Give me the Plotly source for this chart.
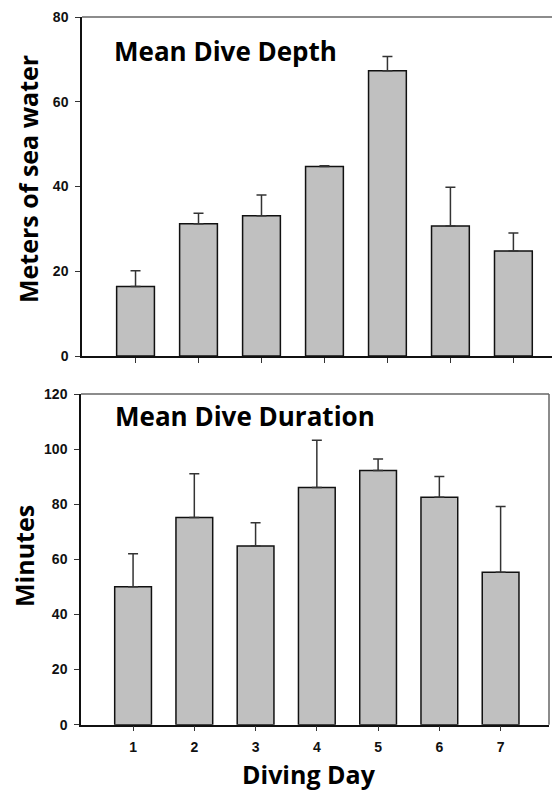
import plotly.graph_objects as go

days = [1, 2, 3, 4, 5, 6, 7]
tick_labels = ["1", "2", "3", "4", "5", "6", "7"]
depth_ticks = [0, 20, 40, 60, 80]
duration_ticks = [0, 20, 40, 60, 80, 100, 120]

depth_mean = [16.4, 31.2, 33.1, 44.7, 67.3, 30.7, 24.8]
depth_err = [3.7, 2.5, 4.9, 0.2, 3.4, 9.1, 4.2]

duration_mean = [50.1, 75.2, 64.8, 86.1, 92.2, 82.5, 55.3]
duration_err = [11.9, 15.9, 8.5, 17.1, 4.2, 7.6, 23.9]

BAR_FILL = "#c0c0c0"
TITLE_FONT = dict(family="Open Sans", size=26, color="#000000")
AXTITLE_FONT = dict(family="Open Sans", size=25, color="#000000")
TICK_FONT = dict(family="Liberation Sans, Arial", size=14, color="#111111")

# page body has an 8px default margin; compensate so window pixels match
OFF = 8
W, H = 560 - OFF, 791 - OFF

def px_x(p):
    return (p - OFF) / W

def px_y(p):
    return 1 - (p - OFF) / H

def bold(labels):
    return ["<b>%s</b>" % l for l in labels]

fig = go.Figure()

err_style = dict(type="data", symmetric=False, arrayminus=[0] * 7,
                 color="#333333", thickness=1.5, width=5)

fig.add_trace(go.Bar(
    x=days, y=depth_mean, width=0.6,
    marker=dict(color=BAR_FILL, line=dict(color="#111111", width=1.5)),
    error_y=dict(array=depth_err, **err_style),
    xaxis="x", yaxis="y", showlegend=False,
))
fig.add_trace(go.Bar(
    x=days, y=duration_mean, width=0.6,
    marker=dict(color=BAR_FILL, line=dict(color="#111111", width=1.5)),
    error_y=dict(array=duration_err, **err_style),
    xaxis="x2", yaxis="y2", showlegend=False,
))

axis_common = dict(showgrid=False, zeroline=False, showline=True,
                   linecolor="#111111", linewidth=1.5,
                   ticks="outside", ticklen=5, tickwidth=1,
                   tickcolor="#333333", tickfont=TICK_FONT,
                   automargin=False)

fig.update_layout(
    width=W, height=H,
    margin=dict(l=0, r=0, t=0, b=0),
    paper_bgcolor="white", plot_bgcolor="white",
    bargap=0.4,
    xaxis=dict(domain=[px_x(82), 1.0], range=[0.15, 7.74], anchor="y",
               tickvals=days, ticktext=["" for _ in days], **axis_common),
    yaxis=dict(domain=[px_y(356), px_y(17)], range=[0, 80], anchor="x",
               tickvals=depth_ticks, ticklabelstandoff=4,
               ticktext=bold([str(v) for v in depth_ticks]), **axis_common),
    xaxis2=dict(domain=[px_x(81), px_x(549)], range=[0.15, 7.79], anchor="y2",
                tickvals=days, ticktext=bold(tick_labels),
                ticklabelstandoff=4, **axis_common),
    yaxis2=dict(domain=[px_y(724.7), px_y(394)], range=[0, 120], anchor="x2",
                tickvals=duration_ticks, ticklabelstandoff=4,
                ticktext=bold([str(v) for v in duration_ticks]), **axis_common),
)

# panel borders (top line on both panels, right line on lower panel)
fig.add_shape(type="line", xref="x domain", yref="y domain",
              x0=0, x1=1, y0=1, y1=1, line=dict(color="#666666", width=1.5))
fig.add_shape(type="line", xref="x2 domain", yref="y2 domain",
              x0=0, x1=1, y0=1, y1=1, line=dict(color="#666666", width=1.5))
fig.add_shape(type="line", xref="x2 domain", yref="y2 domain",
              x0=1, x1=1, y0=0, y1=1, line=dict(color="#666666", width=1.5))

annotations = [
    dict(text="<b>Mean Dive Depth</b>", x=px_x(112), y=px_y(51),
         xanchor="left", yanchor="middle", font=TITLE_FONT),
    dict(text="<b>Mean Dive Duration</b>", x=px_x(113), y=px_y(416),
         xanchor="left", yanchor="middle", font=TITLE_FONT),
    dict(text="<b>Meters of sea water</b>", x=px_x(28), y=px_y(179),
         xanchor="center", yanchor="middle", textangle=-90, font=AXTITLE_FONT),
    dict(text="<b>Minutes</b>", x=px_x(24), y=px_y(556),
         xanchor="center", yanchor="middle", textangle=-90, font=AXTITLE_FONT),
    dict(text="<b>Diving Day</b>", x=px_x(308.5), y=px_y(774),
         xanchor="center", yanchor="middle", font=AXTITLE_FONT),
]
for a in annotations:
    fig.add_annotation(xref="paper", yref="paper", showarrow=False, **a)

fig.write_html("out.html")
